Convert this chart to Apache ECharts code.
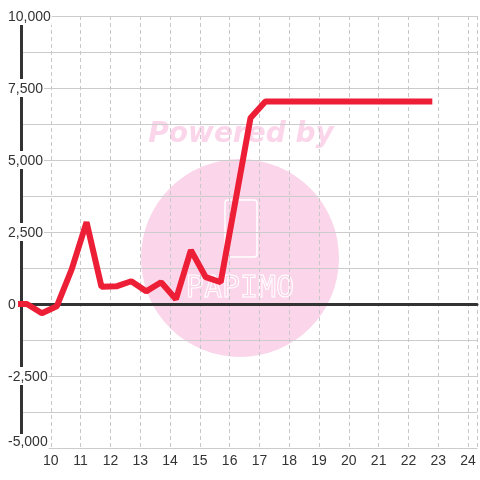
<!DOCTYPE html>
<html>
<head>
<meta charset="utf-8">
<script src="https://cdn.jsdelivr.net/npm/echarts@6/dist/echarts.min.js"></script>
<style>
  html, body { margin: 0; padding: 0; background: #fff; }
  #chart { width: 480px; height: 480px; }
</style>
</head>
<body>
<div id="chart"></div>
<script>
// hours (x) and values (y)
const hours = [8.7, 9.2, 9.7, 10.2, 10.7, 11.2, 11.7, 12.2, 12.7, 13.2, 13.7, 14.2, 14.7, 15.2, 15.7,
    16.2, 16.7, 17.2, 17.7, 18.2, 18.7, 19.2, 19.7, 20.2, 20.7, 21.2, 21.7, 22.2, 22.7];
const values = [0, 0, -320, -80, 1200, 2840, 600, 615, 790, 440, 755, 165, 1870, 930, 755,
    3600, 6455, 7030, 7030, 7030, 7030, 7030, 7030, 7030, 7030, 7030, 7030, 7030, 7030];
const xTicks = [10, 11, 12, 13, 14, 15, 16, 17, 18, 19, 20, 21, 22, 23, 24];
const yTicks = [-5000, -2500, 0, 2500, 5000, 7500, 10000];

const font = 'Liberation Sans, Arial, sans-serif';
const lineData = hours.map((h, i) => [h, values[i]]);

function yLabel(v) {
    if (!yTicks.includes(v)) return '';
    const txt = v.toLocaleString('en-US');
    return v === yTicks[0] ? '{low|' + txt + '}' : '{n|' + txt + '}'; // lowest label sits a bit higher
}

const chart = echarts.init(document.getElementById('chart'));
chart.setOption({
    animation: false,
    backgroundColor: '#fff',
    grid: { left: 21, right: 0, top: 16, bottom: 32 },
    // watermark behind the grid
    graphic: {
        elements: [
            { type: 'circle', z: -1, shape: { cx: 240, cy: 258, r: 99 }, style: { fill: '#fbd6ea' } },
            {
                type: 'text', z: -1, x: 241, y: 135,
                style: {
                    text: 'Powered by', fill: '#fbd6ea', align: 'center', verticalAlign: 'middle',
                    font: 'italic bold 28px DejaVu Sans'
                }
            },
            {
                type: 'rect', z: -1, shape: { x: 225, y: 200, width: 32, height: 57, r: 3 },
                style: { fill: 'none', stroke: '#fff', lineWidth: 1.5 }
            },
            {
                type: 'text', z: -1, x: 240, y: 289,
                style: {
                    text: 'PAPIMO', fill: 'none', stroke: '#fff', lineWidth: 1,
                    align: 'center', verticalAlign: 'middle', font: '30px DejaVu Sans Mono'
                }
            }
        ]
    },
    xAxis: [
        {
            // zero line
            type: 'value', min: 9, max: 24.3, position: 'top',
            axisLine: { show: true, onZero: true, lineStyle: { color: '#333', width: 3 } },
            axisTick: { show: false },
            axisLabel: { show: false },
            splitLine: { show: false }
        },
        {
            type: 'value', min: 9, max: 24.3, interval: 1, position: 'bottom',
            axisLine: { show: true, onZero: false, lineStyle: { color: '#ccc', width: 1 } },
            axisTick: { show: false },
            axisLabel: {
                color: '#333', fontFamily: font, fontSize: 14, margin: 6,
                formatter: v => xTicks.includes(v) ? String(v) : ''
            },
            splitLine: { show: true, lineStyle: { color: '#c8c8c8', type: [4, 3], width: 1 } }
        }
    ],
    yAxis: {
        type: 'value', min: -5000, max: 10000, interval: 1250,
        axisLine: { show: true, lineStyle: { color: '#333', width: 3 } },
        axisTick: { show: false },
        axisLabel: {
            color: '#333', fontFamily: font, fontSize: 14, align: 'left', margin: 14,
            backgroundColor: '#fff', padding: [1, 1],
            formatter: yLabel,
            rich: {
                n: { color: '#333', fontFamily: font, fontSize: 14, padding: [2, 0, 0, 0] },
                low: { color: '#333', fontFamily: font, fontSize: 14, padding: [0, 0, 12, 0] }
            }
        },
        splitLine: { show: true, lineStyle: { color: '#ccc', width: 1 } }
    },
    series: [{
        type: 'line',
        xAxisIndex: 0,
        data: lineData,
        showSymbol: false,
        lineStyle: { color: '#ec1f37', width: 6, cap: 'square' }
    }]
});
</script>
</body>
</html>
